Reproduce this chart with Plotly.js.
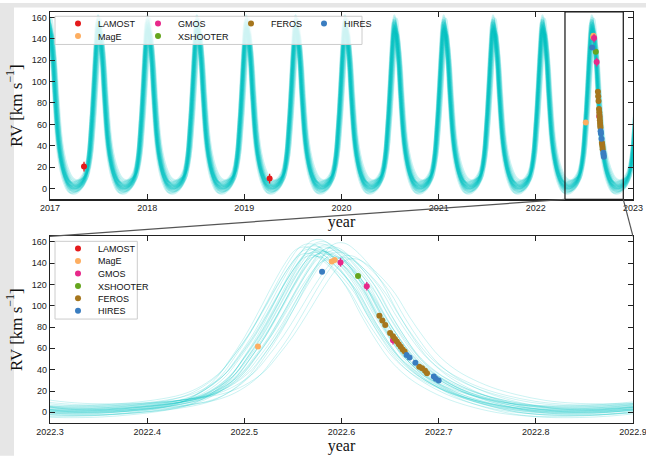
<!DOCTYPE html>
<html><head><meta charset="utf-8">
<script src="https://cdn.plot.ly/plotly-3.0.1.min.js"></script>
<style>html,body{margin:0;padding:0;background:#fff;}#chart{width:646px;height:456px;}</style>
</head><body><div id="chart"></div>
<script>
// ---------- data ----------
const instruments = ["LAMOST", "MagE", "GMOS", "XSHOOTER", "FEROS", "HIRES"];
const instColors = ["#e41a1c", "#fdae61", "#e7298a", "#66a61e", "#a6761d", "#3a7dc0"];

const lamostT = [2017.35, 2019.26];
const lamostRV = [20.6, 9.4];
const lamostErr = [4.5, 4.5];

const mageT = [2022.514, 2022.590, 2022.593];
const mageRV = [61.7, 141.5, 142.8];
const mageErr = [1.5, 1.5, 1.5];

const gmosT = [2022.599, 2022.626, 2022.653];
const gmosRV = [140.6, 118.2, 67.6];
const gmosErr = [4, 4, 4];

const xshooterT = [2022.617];
const xshooterRV = [127.9];
const xshooterErr = [1.2];

const ferosT = [2022.639, 2022.642, 2022.645, 2022.650, 2022.653, 2022.655, 2022.657, 2022.659, 2022.661, 2022.663, 2022.665, 2022.680, 2022.683, 2022.686, 2022.688];
const ferosRV = [90.6, 86.2, 81.9, 74.4, 71.3, 68.8, 66.4, 63.9, 61.4, 59.0, 57.1, 42.8, 41.3, 39.1, 36.7];
const ferosErr = [0.6, 0.6, 0.6, 0.6, 0.6, 0.6, 0.6, 0.6, 0.6, 0.6, 0.6, 0.6, 0.6, 0.6, 0.6];

const hiresT = [2022.580, 2022.667, 2022.670, 2022.676, 2022.695, 2022.697, 2022.700];
const hiresRV = [131.9, 53.7, 51.5, 46.5, 33.5, 31.6, 29.8];
const hiresErr = [0.4, 0.4, 0.4, 0.4, 0.4, 0.4, 0.4];

// RV profile of one orbit (central model curve), phase relative to the RV maximum
const profPhase = [-0.5, -0.433, -0.374, -0.315, -0.256, -0.217, -0.177, -0.148, -0.118, -0.089, -0.059, -0.035, -0.016, 0,
                   0.016, 0.035, 0.059, 0.089, 0.118, 0.148, 0.177, 0.207, 0.236, 0.285, 0.335, 0.394, 0.453, 0.5];
const profRV = [2.0, 2.6, 4.5, 7.5, 13, 21, 35, 52, 72, 95, 120, 138, 149, 152,
                151, 145, 134, 116, 92, 70, 52, 39, 30, 19, 11.5, 5.5, 2.6, 2.0];

// posterior model samples: time of RV maximum, period (yr), maximum and minimum RV
const sampleTp = [2022.575, 2022.580, 2022.570, 2022.585, 2022.565, 2022.590, 2022.578, 2022.572, 2022.595, 2022.560,
                  2022.583, 2022.568, 2022.600, 2022.577, 2022.587, 2022.563, 2022.610, 2022.574, 2022.581, 2022.592,
                  2022.569, 2022.586, 2022.576, 2022.605, 2022.566, 2022.579, 2022.589, 2022.573, 2022.597, 2022.582];
const sampleP = [0.5080, 0.5081, 0.5082, 0.5079, 0.5083, 0.5078, 0.5080, 0.5081, 0.5077, 0.5083,
                 0.5080, 0.5082, 0.5078, 0.5080, 0.5079, 0.5082, 0.5077, 0.5081, 0.5080, 0.5079,
                 0.5081, 0.5079, 0.5080, 0.5078, 0.5082, 0.5080, 0.5079, 0.5081, 0.5078, 0.5080];
const samplePeak = [152, 155, 150, 148, 158, 146, 160, 153, 150, 155,
                    157, 147, 145, 151, 154, 149, 144, 162, 150, 152,
                    156, 143, 158, 147, 153, 149, 155, 146, 159, 151];
const sampleMin = [1, 2, 0, 3, -2, 4, -3, 5, 6, -4,
                   0, 2, 7, -1, 1, 3, 8, -5, 4, -2,
                   1, 5, 0, 2, 6, -3, 3, -1, 0, 2];

const topXRange = [2017, 2023];
const zoomXRange = [2022.3, 2022.9];
const yRange = [-10, 165];
const topXTicks = [2017, 2018, 2019, 2020, 2021, 2022, 2023];
const zoomXTicks = [2022.3, 2022.4, 2022.5, 2022.6, 2022.7, 2022.8, 2022.9];

// ---------- layout geometry (pixels) ----------
const W = 646, H = 456, ML = 50, MR = 13, MT = 9, MB = 33;
const pw = W - ML - MR, ph = H - MT - MB;
const px2x = p => (p - ML) / pw;
const px2y = p => (H - MB - p) / ph;
const topDomain = [px2y(197.7), 1];
const botDomain = [0, px2y(235)];

// ---------- traces ----------
const traces = [];
const pmin = Math.min(...profRV), pmax = Math.max(...profRV);
function curve(i, nFrom, nTo) {
  const xs = [], ys = [];
  const s = (samplePeak[i] - sampleMin[i]) / (pmax - pmin);
  for (let n = nFrom; n <= nTo; n++) {
    for (let j = 0; j < profPhase.length - 1; j++) {
      xs.push(sampleTp[i] + (n + profPhase[j]) * sampleP[i]);
      ys.push(sampleMin[i] + (profRV[j] - pmin) * s);
    }
  }
  const last = profPhase.length - 1;
  xs.push(sampleTp[i] + (nTo + profPhase[last]) * sampleP[i]);
  ys.push(sampleMin[i] + (profRV[last] - pmin) * s);
  return [xs, ys];
}
for (let i = 0; i < sampleTp.length; i++) {
  const [xt, yt] = curve(i, -12, 1);
  traces.push({x: xt, y: yt, xaxis: 'x', yaxis: 'y', mode: 'lines', showlegend: false, hoverinfo: 'skip',
    line: {color: 'rgba(0,196,196,0.2)', width: 1.7, shape: 'spline', smoothing: 1}});
  const [xb, yb] = curve(i, -1, 1);
  traces.push({x: xb, y: yb, xaxis: 'x2', yaxis: 'y2', mode: 'lines', showlegend: false, hoverinfo: 'skip',
    line: {color: 'rgba(0,196,196,0.2)', width: 1, shape: 'spline', smoothing: 1}});
}

const dataSets = [
  [lamostT, lamostRV, lamostErr], [mageT, mageRV, mageErr], [gmosT, gmosRV, gmosErr],
  [xshooterT, xshooterRV, xshooterErr], [ferosT, ferosRV, ferosErr], [hiresT, hiresRV, hiresErr]
];
// legend item positions (px): top legend in 4 columns, bottom legend in one column
const topLegPos = [[58, 20.7], [58, 33.3], [138, 20.7], [138, 33.3], [231, 20.7], [304, 20.7]];
const botLegPos = [[58, 247.3], [58, 259.7], [58, 272.3], [58, 285], [58, 297.3], [58, 310]];
const layoutLegends = {};
dataSets.forEach((d, k) => {
  const topName = 'legend' + (k === 0 ? '' : (k + 1));
  const botName = 'legend' + (k + 7);
  traces.push({x: d[0], y: d[1], xaxis: 'x', yaxis: 'y', mode: 'markers', name: instruments[k], legend: topName,
    marker: {color: instColors[k], size: 6},
    error_y: {type: 'data', array: d[2], visible: true, color: instColors[k], thickness: 1.3, width: 0}});
  traces.push({x: d[0], y: d[1], xaxis: 'x2', yaxis: 'y2', mode: 'markers', name: instruments[k], legend: botName,
    marker: {color: instColors[k], size: 6},
    error_y: {type: 'data', array: d[2], visible: true, color: instColors[k], thickness: 1.3, width: 0}});
  const common = {xref: 'paper', yref: 'paper', xanchor: 'left', yanchor: 'middle', bgcolor: 'rgba(0,0,0,0)',
    borderwidth: 0, font: {family: 'Liberation Sans, Arial, sans-serif', size: 9, color: '#111'}, itemclick: false};
  layoutLegends[topName] = Object.assign({x: px2x(topLegPos[k][0]), y: px2y(topLegPos[k][1])}, common);
  layoutLegends[botName] = Object.assign({x: px2x(botLegPos[k][0]), y: px2y(botLegPos[k][1])}, common);
});

// ---------- layout ----------
const axisCommon = {showline: true, linecolor: '#222', linewidth: 1.3, mirror: 'ticks', ticks: 'inside',
  ticklen: 5, tickwidth: 1, tickcolor: '#222', showgrid: false, zeroline: false, ticklabeloverflow: 'allow',
  tickfont: {family: 'Liberation Sans, Arial, sans-serif', size: 9, color: '#222'}};
const xTitle = {text: 'year', font: {family: 'Liberation Serif, serif', size: 16, color: '#111'}, standoff: 2};
const yTitle = {text: 'RV [km s<sup>\u22121</sup>]', font: {family: 'Liberation Serif, serif', size: 17, color: '#111'}, standoff: 5};

const layout = Object.assign({
  width: W, height: H, margin: {l: ML, r: MR, t: MT, b: MB},
  paper_bgcolor: '#ffffff', plot_bgcolor: '#ffffff', showlegend: true,
  xaxis: Object.assign({}, axisCommon, {domain: [0, 1], range: topXRange, tickvals: topXTicks, anchor: 'y', title: xTitle}),
  yaxis: Object.assign({}, axisCommon, {domain: topDomain, range: yRange, dtick: 20, tick0: 0, anchor: 'x', title: yTitle}),
  xaxis2: Object.assign({}, axisCommon, {domain: [0, 1], range: zoomXRange, tickvals: zoomXTicks, tickformat: '.1f', anchor: 'y2', title: xTitle}),
  yaxis2: Object.assign({}, axisCommon, {domain: botDomain, range: yRange, dtick: 20, tick0: 0, anchor: 'x2', title: yTitle}),
  shapes: [
    // grey page margin
    {type: 'rect', xref: 'paper', yref: 'paper', x0: px2x(0), x1: px2x(14), y0: px2y(H), y1: px2y(0), fillcolor: '#e6e6e6', line: {width: 0}, layer: 'below'},
    {type: 'rect', xref: 'paper', yref: 'paper', x0: px2x(0), x1: px2x(W), y0: px2y(4.5), y1: px2y(0), fillcolor: '#e6e6e6', line: {width: 0}, layer: 'below'},
    // zoom box in top panel
    {type: 'rect', xref: 'x', yref: 'y', x0: zoomXRange[0], x1: zoomXRange[1], y0: yRange[0], y1: yRange[1], line: {color: '#111', width: 1.2}, layer: 'above'},
    // connector lines
    {type: 'line', xref: 'x', yref: 'paper', x0: zoomXRange[0], x1: topXRange[0], y0: topDomain[0], y1: botDomain[1], line: {color: '#555', width: 1.2}},
    {type: 'line', xref: 'x', yref: 'paper', x0: zoomXRange[1], x1: topXRange[1], y0: topDomain[0], y1: botDomain[1], line: {color: '#555', width: 1.2}},
    // legend frames
    {type: 'rect', xref: 'paper', yref: 'paper', x0: px2x(55), x1: px2x(362), y0: px2y(41.7), y1: px2y(13.3), fillcolor: 'rgba(255,255,255,0.8)', line: {color: '#cccccc', width: 1}, layer: 'above'},
    {type: 'rect', xref: 'paper', yref: 'paper', x0: px2x(55), x1: px2x(137.3), y0: px2y(318.3), y1: px2y(240), fillcolor: 'rgba(255,255,255,0.8)', line: {color: '#cccccc', width: 1}, layer: 'above'}
  ]
}, layoutLegends);

Plotly.newPlot('chart', traces, layout, {displayModeBar: false, staticPlot: true});
</script>
</body></html>
